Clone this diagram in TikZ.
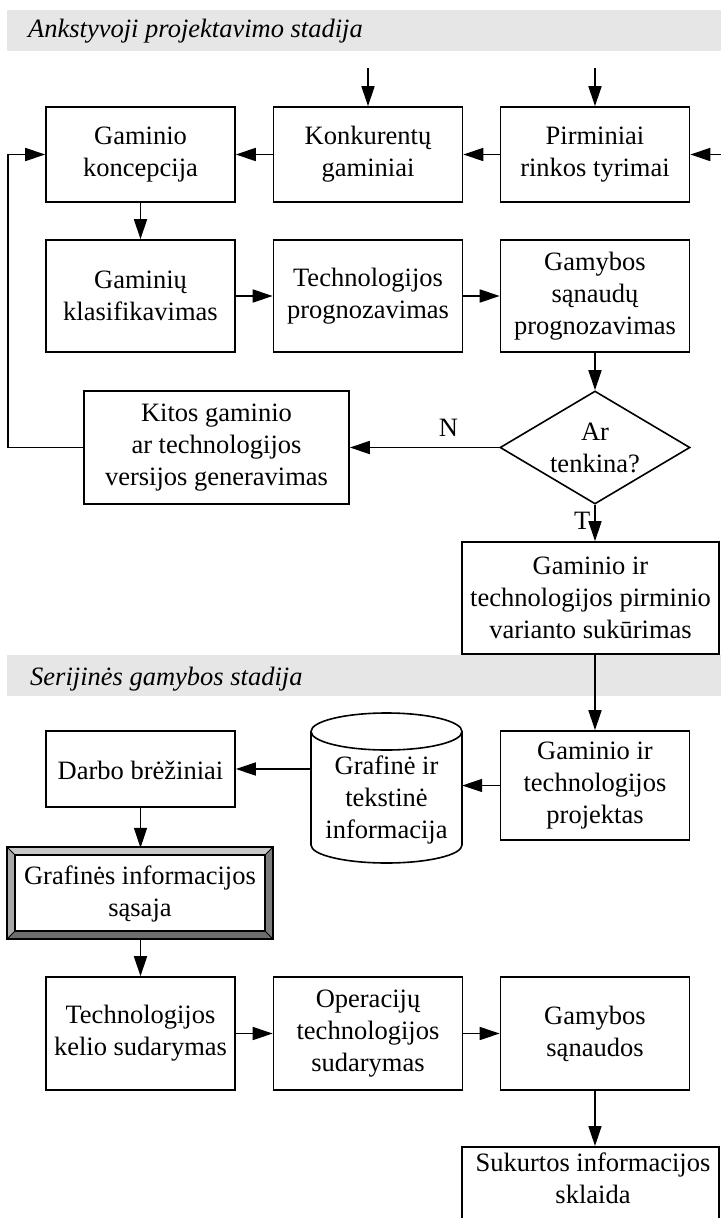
\documentclass[tikz,border=0pt]{standalone}
\usepackage{fontspec}
\setmainfont{Liberation Serif}
\usetikzlibrary{arrows.meta,shapes.geometric}

\definecolor{bandgray}{HTML}{E6E6E6}
\definecolor{bevtop}{HTML}{C8C8C8}
\definecolor{bevleft}{HTML}{A8A8A8}
\definecolor{bevright}{HTML}{7C7C7C}
\definecolor{bevbottom}{HTML}{6C6C6C}

% body font of all boxes, with a taller first line so the text block sits a little lower
\newcommand{\boxfont}{\fontsize{26.5}{32}\selectfont}
\newcommand{\firstline}{\rule{0pt}{22pt}}

\tikzset{
  stepbox/.style={draw, line width=1.6pt, fill=white, align=center, inner sep=0pt,
                  minimum width=189pt, font=\boxfont, execute at begin node=\firstline},
  txt/.style={align=center, inner sep=0pt, font=\boxfont},
  decision/.style={draw, line width=1.6pt, diamond, aspect=1.68, inner sep=0pt,
                   minimum width=190pt, minimum height=113pt, align=center,
                   font=\boxfont},
  flow/.style={line width=1.6pt, -{Triangle[length=20pt,width=13pt]}},
  band/.style={fill=bandgray},
  stagetitle/.style={anchor=base west, inner sep=0pt,
                     font=\fontsize{26.5}{32}\selectfont\itshape},
}

\begin{document}
\begin{tikzpicture}[x=1pt, y=-1pt]
\clip (0,0) rectangle (721,1218);
\fill[white] (0,0) rectangle (721,1218);

% ---------- stage 1 ----------
\fill[band] (7,10) rectangle (721,51);
\node[stagetitle] (st1) at (28,37) {Ankstyvoji projektavimo stadija};

\node[stepbox, minimum height=95pt] (gk)  at (140.5,154.5) {Gaminio\\koncepcija};
\node[stepbox, minimum height=95pt] (kg)  at (368,154.5)   {Konkurentų\\gaminiai};
\node[stepbox, minimum height=95pt] (prt) at (595,154.5)   {Pirminiai\\rinkos tyrimai};

\node[stepbox, minimum height=112pt] (gkl) at (140.5,296) {Gaminių\\klasifikavimas};
\node[stepbox, minimum height=112pt] (tpr) at (368,296)   {Technologijos\\prognozavimas};
\node[stepbox, minimum height=112pt] (gsp) at (595,296)   {Gamybos\\sąnaudų\\prognozavimas};

\node[stepbox, minimum width=265pt, minimum height=113pt] (kit) at (216.5,447.5)
  {Kitos gaminio\\ar technologijos\\versijos generavimas};
\node[decision] (ar) at (595,447.5) {Ar\\tenkina?};

\node[stepbox, minimum width=257pt, minimum height=112pt] (pir) at (590.5,598)
  {Gaminio ir\\technologijos pirminio\\varianto sukūrimas};

\coordinate (inK) at (368,68);
\coordinate (inP) at (595,68);
\coordinate (inR) at (721,154.5);
\coordinate (loop) at (8,447.5);

\draw[flow] (inK) -- (kg.north);
\draw[flow] (inP) -- (prt.north);
\draw[flow] (inR) -- (prt.east);
\draw[flow] (prt.west) -- (kg.east);
\draw[flow] (kg.west) -- (gk.east);
\draw[flow] (gk.south) -- (gkl.north);
\draw[flow] (gkl.east) -- (tpr.west);
\draw[flow] (tpr.east) -- (gsp.west);
\draw[flow] (gsp.south) -- (ar.north);
\draw[flow] (ar.west) -- node[txt, above=10pt, pos=0.34] {N} (kit.east);
\draw[flow] (kit.west) -- (loop) |- (gk.west);
\draw[flow] (ar.south) -- node[txt, left=4pt, pos=0.45] {T} (pir.north -| ar.south);

% ---------- stage 2 ----------
\fill[band] (7,655) rectangle (721,696);
\node[stagetitle] (st2) at (30,685) {Serijinės gamybos stadija};

\node[stepbox, minimum height=109pt] (proj) at (595,785.5)
  {Gaminio ir\\technologijos\\projektas};
\node[stepbox, minimum height=76pt] (darbo) at (140.5,769) {Darbo brėžiniai};

% database cylinder
\draw[line width=1.6pt, fill=white]
  (311,731.5) -- (311,845) arc[start angle=180, end angle=0, x radius=75.5, y radius=18]
  -- (462,731.5);
\draw[line width=1.6pt, fill=white] (386.5,731.5) ellipse [x radius=75.5, y radius=18.5];
\node[txt, minimum width=151pt, minimum height=150pt] (db) at (386.5,800)
  {Grafinė ir\\tekstinė\\informacija};

% bevelled interface box
\fill[bevtop]    (7,847) -- (273,847) -- (265,855) -- (15,855) -- cycle;
\fill[bevleft]   (7,847) -- (15,855) -- (15,931) -- (7,939) -- cycle;
\fill[bevright]  (273,847) -- (273,939) -- (265,931) -- (265,855) -- cycle;
\fill[bevbottom] (7,939) -- (15,931) -- (265,931) -- (273,939) -- cycle;
\draw[line width=1.6pt] (7,847) rectangle (273,939);
\draw[line width=1.2pt] (15,855) rectangle (265,931);
\draw[line width=1pt] (7,847) -- (15,855) (273,847) -- (265,855)
                      (7,939) -- (15,931) (273,939) -- (265,931);
\node[txt, minimum width=266pt, minimum height=92pt] (gis) at (140,894)
  {Grafinės informacijos\\sąsaja};

\node[stepbox, minimum height=113pt] (tks) at (140.5,1033.5) {Technologijos\\kelio sudarymas};
\node[stepbox, minimum height=113pt] (ots) at (368,1033.5)   {Operacijų\\technologijos\\sudarymas};
\node[stepbox, minimum height=113pt] (gsn) at (595,1033.5)   {Gamybos\\sąnaudos};

\node[stepbox, minimum width=257pt, minimum height=100pt, anchor=north] (sk) at (590.5,1146) {};
\node[txt] (skt) at (593,1178) {Sukurtos informacijos\\sklaida};

\draw[flow] (pir.south -| proj.north) -- (proj.north);
\draw[flow] (proj.west) -- (db.east |- proj.west);
\draw[flow] (db.west |- darbo.east) -- (darbo.east);
\draw[flow] (darbo.south) -- (gis.north -| darbo.south);
\draw[flow] (gis.south -| tks.north) -- (tks.north);
\draw[flow] (tks.east) -- (ots.west);
\draw[flow] (ots.east) -- (gsn.west);
\draw[flow] (gsn.south) -- (gsn.south |- sk.north);
\end{tikzpicture}
\end{document}
